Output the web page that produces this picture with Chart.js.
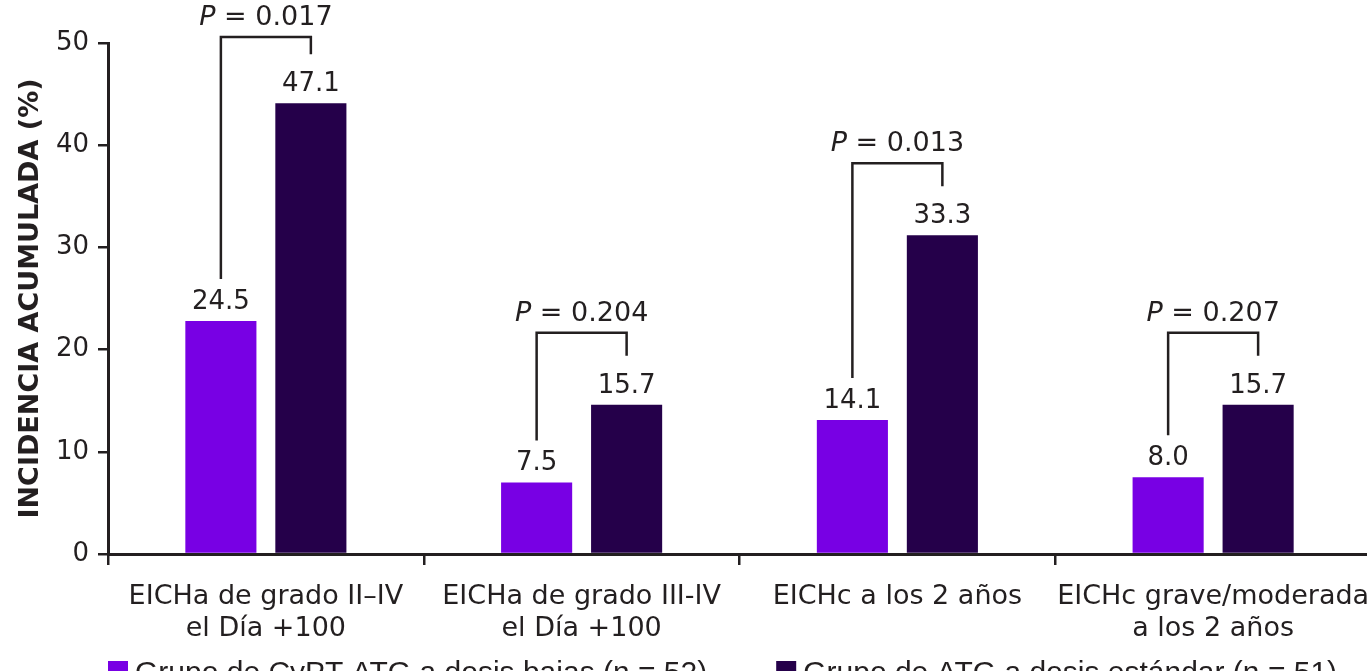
<!DOCTYPE html>
<html>
<head>
<meta charset="utf-8">
<script src="https://cdn.jsdelivr.net/npm/chart.js@4.4.1/dist/chart.umd.min.js"></script>
<style>
  html, body { margin: 0; padding: 0; overflow: hidden; background: #fff; }
</style>
</head>
<body>
<canvas id="chart" width="1371" height="671"></canvas>
<script>
// categories on the x axis
const categories = [
  ['EICHa de grado II–IV', 'el Día +100'],
  ['EICHa de grado III-IV', 'el Día +100'],
  'EICHc a los 2 años',
  ['EICHc grave/moderada', 'a los 2 años']
];
// bar heights as drawn in the figure
const lowDoseBars = [22.8, 7.0, 13.1, 7.5];
const standardBars = [44.1, 14.6, 31.2, 14.6];
// printed values above the bars
const lowDoseLabels = ['24.5', '7.5', '14.1', '8.0'];
const standardLabels = ['47.1', '15.7', '33.3', '15.7'];
const pValues = ['0.017', '0.204', '0.013', '0.207'];
const seriesNames = ['Grupo de CyPT-ATG a dosis bajas (n = 52)', 'Grupo de ATG a dosis estándar (n = 51)'];
const yTicks = [0, 10, 20, 30, 40, 50];

const ink = '#231f20';
const colors = ['#7800e4', '#25004a'];
const fontFamily = '"DejaVu Sans", Verdana, sans-serif';

// values over bars + P brackets
const annotate = {
  id: 'annotate',
  afterDatasetsDraw(chart) {
    const ctx = chart.ctx;
    const a = chart.getDatasetMeta(0).data;
    const b = chart.getDatasetMeta(1).data;
    ctx.save();
    ctx.fillStyle = ink;
    ctx.strokeStyle = ink;
    ctx.lineWidth = 2.5;
    ctx.textBaseline = 'middle';
    a.forEach((bar, i) => {
      const bb = b[i];
      ctx.font = '26px ' + fontFamily;
      ctx.textAlign = 'center';
      ctx.fillText(lowDoseLabels[i], bar.x, bar.y - 19);
      ctx.fillText(standardLabels[i], bb.x, bb.y - 19);

      const top = Math.max(chart.chartArea.top - 6, bb.y - 72);
      ctx.beginPath();
      ctx.moveTo(bar.x, bar.y - 42);
      ctx.lineTo(bar.x, top);
      ctx.lineTo(bb.x, top);
      ctx.lineTo(bb.x, bb.y - 49);
      ctx.stroke();

      // "P = x" with italic P
      const rest = ' = ' + pValues[i];
      ctx.font = 'italic 27px ' + fontFamily;
      const wP = ctx.measureText('P').width;
      ctx.font = '27px ' + fontFamily;
      const wR = ctx.measureText(rest).width;
      let x = (bar.x + bb.x) / 2 - (wP + wR) / 2;
      ctx.textAlign = 'left';
      ctx.font = 'italic 27px ' + fontFamily;
      ctx.fillText('P', x, top - 19);
      ctx.font = '27px ' + fontFamily;
      ctx.fillText(rest, x + wP, top - 19);
    });
    ctx.restore();
  }
};

// legend at the bottom (partly cut by the frame)
const bottomLegend = {
  id: 'bottomLegend',
  afterDraw(chart) {
    const ctx = chart.ctx;
    ctx.save();
    ctx.font = '30px "Liberation Sans", Arial, sans-serif';
    ctx.textBaseline = 'alphabetic';
    ctx.textAlign = 'left';
    let x = chart.chartArea.left;
    seriesNames.forEach((name, i) => {
      ctx.fillStyle = colors[i];
      ctx.fillRect(x, 661, 20, 20);
      ctx.fillStyle = ink;
      ctx.fillText(name, x + 27, 682);
      x += 27 + ctx.measureText(name).width + 69;
    });
    ctx.restore();
  }
};

new Chart(document.getElementById('chart'), {
  type: 'bar',
  data: {
    labels: categories,
    datasets: [
      { label: seriesNames[0], data: lowDoseBars, backgroundColor: colors[0] },
      { label: seriesNames[1], data: standardBars, backgroundColor: colors[1] }
    ]
  },
  options: {
    responsive: false,
    animation: false,
    devicePixelRatio: 1,
    categoryPercentage: 0.57,
    barPercentage: 0.79,
    layout: { padding: { top: 43, left: 0, right: 0, bottom: 0 } },
    plugins: {
      legend: { display: false },
      tooltip: { enabled: false }
    },
    scales: {
      x: {
        // keep the long last label from shrinking the plot
        afterFit: s => { s.height = 117; s.paddingLeft = 0; s.paddingRight = 0; },
        grid: { offset: true, drawOnChartArea: false, drawTicks: true, tickLength: 11, color: ink, lineWidth: 2.5 },
        border: { display: true, color: ink, width: 3 },
        ticks: {
          color: ink,
          padding: 16,
          maxRotation: 0,
          autoSkip: false,
          font: { family: fontFamily, size: 27, lineHeight: 1.18 }
        }
      },
      y: {
        min: 0,
        max: 50,
        afterFit: s => { s.width = 108; s.paddingTop = 0; s.paddingBottom = 0; },
        afterBuildTicks: s => { s.ticks = yTicks.map(v => ({ value: v })); },
        grid: { drawOnChartArea: false, drawTicks: true, tickLength: 10, color: ink, lineWidth: 2.5 },
        border: { display: true, color: ink, width: 3 },
        ticks: {
          color: ink,
          padding: 9,
          font: { family: fontFamily, size: 26 }
        },
        title: {
          display: true,
          text: 'INCIDENCIA ACUMULADA (%)',
          color: ink,
          padding: { top: 15, bottom: 0 },
          font: { family: fontFamily, size: 27, weight: 'bold' }
        }
      }
    }
  },
  plugins: [annotate, bottomLegend]
});
</script>
</body>
</html>
